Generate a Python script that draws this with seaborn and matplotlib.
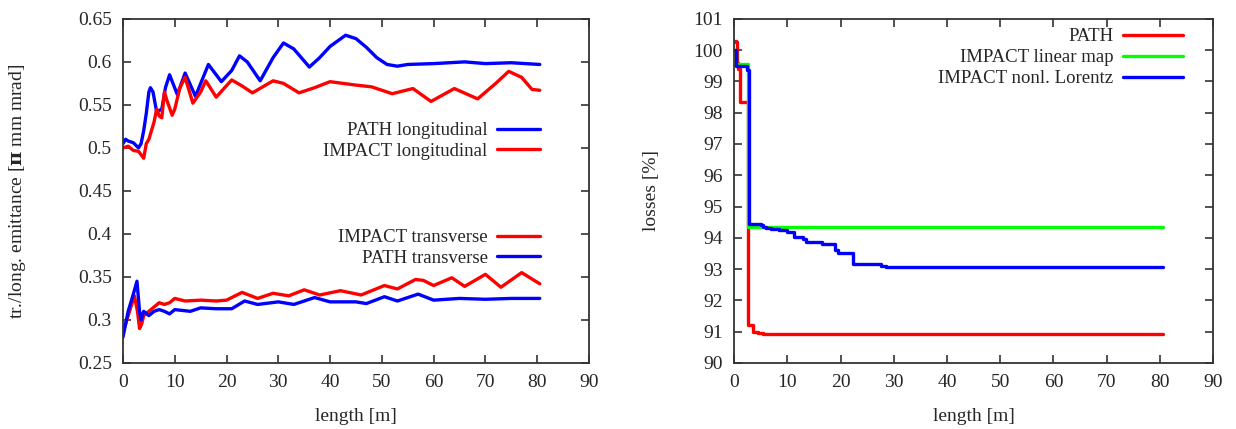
import numpy as np
import pandas as pd
import matplotlib
matplotlib.use('Agg')
import matplotlib.pyplot as plt
import seaborn as sns
from matplotlib.ticker import FuncFormatter

# ---- data ----
# left panel: emittance vs length
path_long_x = [0, 0.5, 1, 2, 3, 3.5, 4, 4.5, 5, 5.3, 5.8, 6.5, 7.5, 8.2, 9, 10.5, 12, 14,
               16.5, 19, 21, 22.5, 24, 26.5, 29, 31, 33, 36, 38, 40, 43, 45, 47, 49, 51,
               53, 55, 60, 66, 70, 75, 80.5]
path_long_y = [0.505, 0.51, 0.508, 0.506, 0.5, 0.505, 0.52, 0.54, 0.565, 0.57, 0.565, 0.542,
               0.545, 0.57, 0.585, 0.562, 0.587, 0.56, 0.597, 0.577, 0.59, 0.607, 0.6, 0.578,
               0.605, 0.622, 0.615, 0.594, 0.605, 0.618, 0.631, 0.627, 0.617, 0.605, 0.597,
               0.595, 0.597, 0.598, 0.6, 0.598, 0.599, 0.597]

impact_long_x = [0, 1, 2, 3, 3.5, 4, 4.5, 5, 5.5, 6, 6.5, 7, 7.5, 8, 8.5, 9.5, 10, 11, 12,
                 13.5, 15, 16, 18, 21, 23, 25, 29, 31, 34, 37, 40, 45, 48, 52, 56, 59.5, 64,
                 68.5, 72, 74.5, 77, 79, 80.5]
impact_long_y = [0.5, 0.502, 0.497, 0.496, 0.492, 0.488, 0.505, 0.51, 0.52, 0.53, 0.545, 0.537,
                 0.535, 0.565, 0.555, 0.538, 0.545, 0.57, 0.582, 0.552, 0.565, 0.578, 0.559,
                 0.579, 0.572, 0.564, 0.578, 0.575, 0.564, 0.57, 0.577, 0.573, 0.571, 0.563,
                 0.569, 0.554, 0.569, 0.557, 0.575, 0.589, 0.582, 0.568, 0.567]

impact_tr_x = [0, 1, 2.2, 2.8, 3.2, 3.6, 4, 5, 6, 7, 8, 9, 10, 12, 15, 18, 20, 23, 26, 29,
               32, 35, 38, 42, 46, 50.5, 53, 56.5, 58, 60, 63.5, 66, 70, 73, 77, 80.5]
impact_tr_y = [0.285, 0.305, 0.328, 0.31, 0.29, 0.295, 0.305, 0.31, 0.315, 0.32, 0.318, 0.32,
               0.325, 0.322, 0.323, 0.322, 0.323, 0.332, 0.325, 0.331, 0.328, 0.335, 0.329,
               0.334, 0.329, 0.34, 0.336, 0.347, 0.346, 0.34, 0.349, 0.339, 0.353, 0.338,
               0.355, 0.342]

path_tr_x = [0, 1, 2, 2.7, 3.2, 3.5, 4, 5, 6, 7, 8, 9, 10, 13, 15, 18, 21, 23.5, 26, 30, 33,
             37, 40, 45, 47, 50.5, 53, 57, 60, 65, 70, 75, 80.5]
path_tr_y = [0.28, 0.31, 0.33, 0.345, 0.31, 0.3, 0.31, 0.305, 0.31, 0.312, 0.31, 0.307, 0.312,
             0.31, 0.314, 0.313, 0.313, 0.322, 0.318, 0.321, 0.318, 0.326, 0.321, 0.321, 0.319,
             0.327, 0.322, 0.33, 0.323, 0.325, 0.324, 0.325, 0.325]

# right panel: losses vs length (step curves)
path_loss_x = [0, 0.3, 0.5, 0.8, 1.0, 2.6, 3.5, 4.5, 5.5, 80.5]
path_loss_y = [100.3, 100.25, 99.6, 99.4, 98.35, 91.2, 91.0, 90.95, 90.92, 90.92]

lin_loss_x = [0, 0.3, 2.6, 80.5]
lin_loss_y = [100.0, 99.55, 94.35, 94.35]

nonl_loss_x = [0, 0.3, 2.4, 2.7, 5, 5.5, 6, 7, 8.5, 10, 11.2, 13, 13.5, 16.5, 19, 19.5,
               22.3, 27.5, 28.5, 29, 80.5]
nonl_loss_y = [100.0, 99.5, 99.35, 94.45, 94.4, 94.35, 94.3, 94.27, 94.25, 94.2, 94.03,
               93.95, 93.88, 93.8, 93.6, 93.52, 93.15, 93.1, 93.07, 93.07, 93.07]

x_ticks = [0, 10, 20, 30, 40, 50, 60, 70, 80, 90]
left_yticks = [0.25, 0.3, 0.35, 0.4, 0.45, 0.5, 0.55, 0.6, 0.65]
right_yticks = [90, 91, 92, 93, 94, 95, 96, 97, 98, 99, 100, 101]

RED, BLUE, GREEN = '#ff0000', '#0000ff', '#00ff00'

sns.set_style('ticks')
plt.rcParams['font.family'] = ['Liberation Serif', 'DejaVu Serif']
plt.rcParams['mathtext.fontset'] = 'dejavuserif'
plt.rcParams['font.size'] = 14
plt.rcParams['axes.linewidth'] = 1.3
plt.rcParams['axes.edgecolor'] = '#333333'

fig = plt.figure(figsize=(12.36, 4.29), dpi=100)
ax1 = fig.add_axes([0.0995, 0.154, 0.377, 0.802])
ax2 = fig.add_axes([0.594, 0.154, 0.3875, 0.802])

lw = 2.4

# left panel
sns.lineplot(x=path_long_x, y=path_long_y, ax=ax1, color=BLUE, lw=lw, sort=False,
             estimator=None, label='PATH longitudinal')
sns.lineplot(x=impact_long_x, y=impact_long_y, ax=ax1, color=RED, lw=lw, sort=False,
             estimator=None, label='IMPACT longitudinal')
sns.lineplot(x=impact_tr_x, y=impact_tr_y, ax=ax1, color=RED, lw=lw, sort=False,
             estimator=None, label='IMPACT transverse')
sns.lineplot(x=path_tr_x, y=path_tr_y, ax=ax1, color=BLUE, lw=lw, sort=False,
             estimator=None, label='PATH transverse')

# right panel
sns.lineplot(x=path_loss_x, y=path_loss_y, ax=ax2, color=RED, lw=lw, sort=False,
             estimator=None, drawstyle='steps-post', label='PATH')
sns.lineplot(x=lin_loss_x, y=lin_loss_y, ax=ax2, color=GREEN, lw=lw, sort=False,
             estimator=None, drawstyle='steps-post', label='IMPACT linear map')
sns.lineplot(x=nonl_loss_x, y=nonl_loss_y, ax=ax2, color=BLUE, lw=lw, sort=False,
             estimator=None, drawstyle='steps-post', label='IMPACT nonl. Lorentz')

fmt = FuncFormatter(lambda v, p: '%g' % v)
for ax in (ax1, ax2):
    ax.set_xlim(0, 90)
    ax.set_xticks(x_ticks)
    ax.yaxis.set_major_formatter(fmt)
    ax.tick_params(direction='in', length=6, width=1.2, top=True, right=True,
                   labelsize=14, pad=8, color='#333333')
    ax.set_xlabel('length [m]', labelpad=12)

ax1.set_ylim(0.25, 0.65)
ax1.set_yticks(left_yticks)
ax1.set_ylabel(r'tr./long. emittance [$\mathbf{\pi}$ mm mrad]', labelpad=36)
ax2.set_ylim(90, 101)
ax2.set_yticks(right_yticks)
ax2.set_ylabel('losses [%]', labelpad=24)

# gnuplot-like keys: text right aligned, sample on the right
h, l = ax1.get_legend_handles_labels()
leg_kw = dict(frameon=False, markerfirst=False, handlelength=2.3, labelspacing=0.2,
              handletextpad=0.5, borderpad=0, borderaxespad=0, fontsize=13.5)
leg1 = ax1.legend(h[:2], l[:2], loc='center right', bbox_to_anchor=(0.895, 0.645), **leg_kw)
ax1.add_artist(leg1)
ax1.legend(h[2:], l[2:], loc='center right', bbox_to_anchor=(0.895, 0.334), **leg_kw)

leg_kw['handlelength'] = 3.2
ax2.legend(loc='center right', bbox_to_anchor=(0.937, 0.887), **leg_kw)

fig.savefig('out.png', dpi=100)
